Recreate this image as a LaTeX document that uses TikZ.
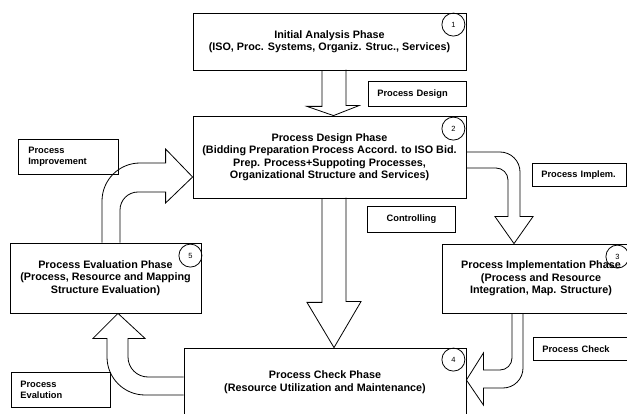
\documentclass[tikz,border=0pt]{standalone}
\usepackage{fontspec}
\setmainfont{Liberation Sans}
\usetikzlibrary{calc,positioning}

\begin{document}
\begin{tikzpicture}[x=1pt,y=-1pt,line width=0.8pt,
    phase/.style={draw,rectangle,align=center,inner sep=0pt,
      font=\bfseries\fontsize{10.8}{12.5}\selectfont},
    tag/.style={draw,rectangle,anchor=north west,align=left,inner xsep=9pt,inner ysep=0pt,
      font=\bfseries\fontsize{9.3}{11.5}\selectfont},
    num/.style={draw,circle,minimum size=23pt,inner sep=0pt,font=\fontsize{7.5}{8}\selectfont},
    block/.style={line join=miter}]

    \useasboundingbox (0,0) rectangle (627,414);
    \clip (0,0) rectangle (627,414);

    % phases
    \node[phase,minimum width=273pt,minimum height=57pt] (P1) at (329.5,41.5)
        {Initial Analysis Phase\\(ISO, Proc. Systems, Organiz. Struc., Services)};
    \node[phase,minimum width=273pt,minimum height=82pt] (P2) at (329.5,157)
        {Process Design Phase\\(Bidding Preparation Process Accord. to ISO Bid.\\
         Prep. Process+Suppoting Processes,\\Organizational Structure and Services)};
    \node[phase,minimum width=198pt,minimum height=69pt] (P3) at (541,278.5)
        {Process Implementation Phase\\(Process and Resource\\Integration, Map. Structure)};
    \node[phase,minimum width=282pt,minimum height=68pt] (P4) at (325,382)
        {Process Check Phase\\(Resource Utilization and Maintenance)};
    \node[phase,minimum width=191pt,minimum height=70pt] (P5) at (105.5,278)
        {Process Evaluation Phase\\(Process, Resource and Mapping\\Structure Evaluation)};

    % numbers
    \node[num] (N1) at ([xshift=-13pt,yshift=-12pt]P1.north east) {1};
    \node[num] (N2) at ([xshift=-13pt,yshift=-13pt]P2.north east) {2};
    \node[num] (N3) at ([xshift=-23pt,yshift=-13pt]P3.north east) {3};
    \node[num] (N4) at ([xshift=-13pt,yshift=-12pt]P4.north east) {4};
    \node[num] (N5) at ([xshift=-11pt,yshift=-13pt]P5.north east) {5};

    % tags
    \node[tag,text width=80pt,minimum height=25pt] (design) at (368,81) {Process Design};
    \node[tag,text width=70pt,minimum height=26pt,align=center] (control) at (367,206) {Controlling};
    \node[tag,text width=80pt,minimum height=35pt,inner xsep=10pt] (improve) at (18,139) {Process\\Improvement};
    \node[tag,text width=76pt,minimum height=23pt] (implem) at (532,163) {Process Implem.};
    \node[tag,text width=76pt,minimum height=23pt] (check) at (533,337) {Process Check};
    \node[tag,text width=81pt,minimum height=35pt] (evalu) at (11,372) {Process\\Evalution};

    % block arrows, straight
    \draw[block] ($(P1.south)+(-7.5,0)$) -- ++(0,36) -- ++(-15,0) -- ($(P2.north)+(4,0)$)
        -- ++(25.5,-10) -- ++(-13,0) -- ++(0,-36);
    \draw[block] ($(P2.south)+(-7.5,0)$) -- ++(0,104) -- ++(-15,0) -- ($(P4.north)+(9,0)$)
        -- ++(27,-46) -- ++(-15,0) -- ++(0,-104);

    % block arrows, bent
    \coordinate (s23) at ($(P2.east)+(0,-5)$);
    \coordinate (h23) at ($(P3.north)+(-21,-27)$);
    \draw[block] (s23) [rounded corners=20pt] -- (s23 -| h23) [sharp corners] -- (h23)
        -- ++(13,0) -- ($(P3.north)+(-27,0)$) -- ++(-19,-27) -- ++(13,0)
        [rounded corners=12pt] |- ($(P2.east)+(0,11)$);

    \coordinate (s34) at ($(P3.south)+(-18,0)$);
    \coordinate (h34) at ($(P4.east)+(17,6)$);
    \draw[block] (s34) [rounded corners=20pt] -- (s34 |- h34) [sharp corners] -- (h34)
        -- ++(0,17) -- ($(P4.east)+(0,-2)$) -- ++(17,-27) -- ++(0,17)
        [rounded corners=12pt] -| ($(P3.south)+(-29,0)$);

    \coordinate (s45) at ($(P4.west)+(0,13)$);
    \coordinate (h45) at ($(P5.south)+(1.5,25)$);
    \draw[block] (s45) [rounded corners=38pt] -- (s45 -| h45) [sharp corners] -- (h45)
        -- ++(-14,0) -- ($(P5.south)+(12.5,0)$) -- ($(P5.south)+(39.5,25)$) -- ++(-17,0)
        [rounded corners=20pt] |- ($(P4.west)+(0,-5)$);

    \coordinate (s52) at ($(P5.north)+(-3.5,0)$);
    \coordinate (h52) at ($(P2.west)+(-27,6)$);
    \draw[block] (s52) [rounded corners=38pt] -- (s52 |- h52) [sharp corners] -- (h52)
        -- ++(0,-14) -- ($(P2.west)+(0,20)$) -- ($(P2.west)+(-27,46)$) -- ++(0,-11)
        [rounded corners=18pt] -| ($(P5.north)+(14.5,0)$);

\end{tikzpicture}
\end{document}
